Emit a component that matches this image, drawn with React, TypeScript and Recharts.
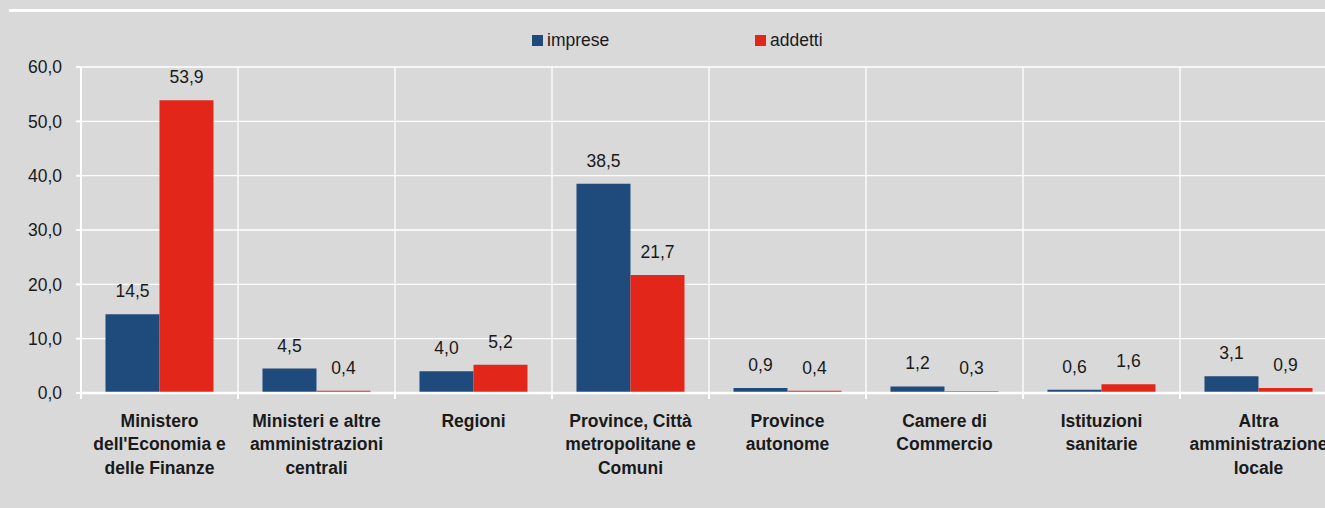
import React from 'react';
import { BarChart, Bar, XAxis, YAxis, CartesianGrid, Legend, LabelList } from 'recharts';

const categories = [
  "Ministero\ndell'Economia e\ndelle Finanze",
  'Ministeri e altre\namministrazioni\ncentrali',
  'Regioni',
  'Province, Città\nmetropolitane e\nComuni',
  'Province\nautonome',
  'Camere di\nCommercio',
  'Istituzioni\nsanitarie',
  'Altra\namministrazione\nlocale',
];
const imprese = [14.5, 4.5, 4.0, 38.5, 0.9, 1.2, 0.6, 3.1];
const addetti = [53.9, 0.4, 5.2, 21.7, 0.4, 0.3, 1.6, 0.9];
const yTicks = [0, 10, 20, 30, 40, 50, 60];

const data = categories.map((c, i) => ({ name: c, imprese: imprese[i], addetti: addetti[i] }));

const BLUE = '#1F4A7C';
const RED = '#E3261A';
const BG = '#D9D9D9';
const FONT = '"Liberation Sans", Arial, sans-serif';
const TEXT = '#1a1a1a';
const FS = 17.5;

const CHART_W = 1345;
const CHART_H = 508;
const PLOT_LEFT = 81;
const PLOT_RIGHT = CHART_W - 8;
const BAND = (PLOT_RIGHT - PLOT_LEFT) / categories.length;
const LEGEND_H = 20;

const fmt = (v: number) => v.toFixed(1).replace('.', ',');

const XTick = (props: any) => {
  const { x, y, payload, index } = props;
  const lines = String(payload.value).split('\n');
  const last = index === categories.length - 1;
  return (
    <g>
      <line x1={x - BAND / 2} x2={x - BAND / 2} y1={y} y2={y + 6} stroke="#fff" strokeWidth={2} />
      {last && <line x1={x + BAND / 2} x2={x + BAND / 2} y1={y} y2={y + 6} stroke="#fff" strokeWidth={2} />}
      <text x={x} y={y + 33.5} textAnchor="middle" fontFamily={FONT} fontSize={FS} fontWeight="bold" fill={TEXT}>
        {lines.map((l, i) => (
          <tspan key={i} x={x} dy={i === 0 ? 0 : 23.5}>{l}</tspan>
        ))}
      </text>
    </g>
  );
};

const LegendContent = () => (
  <div style={{ position: 'relative', height: LEGEND_H, fontFamily: FONT, fontSize: FS, color: TEXT, lineHeight: '20px' }}>
    <div style={{ position: 'absolute', left: 532, top: 0, display: 'flex', alignItems: 'center' }}>
      <span style={{ width: 11, height: 11, background: BLUE, display: 'inline-block', marginRight: 4 }} />
      <span>imprese</span>
    </div>
    <div style={{ position: 'absolute', left: 755, top: 0, display: 'flex', alignItems: 'center' }}>
      <span style={{ width: 11, height: 11, background: RED, display: 'inline-block', marginRight: 4 }} />
      <span>addetti</span>
    </div>
  </div>
);

export default function App() {
  return (
    <div style={{ position: 'fixed', left: 0, top: 0, width: 1325, height: 508, overflow: 'hidden', background: BG }}>
      <div style={{ position: 'absolute', left: 9, top: 9, width: 1320, height: 3, background: '#fff' }} />
      <BarChart
        width={CHART_W}
        height={CHART_H}
        data={data}
        margin={{ top: 67 - LEGEND_H, right: 8, left: 0, bottom: 15 }}
        barCategoryGap="15.6%"
        barGap={0}
      >
        <CartesianGrid
          stroke="#fff"
          strokeWidth={1.3}
          verticalCoordinatesGenerator={({ offset }: any) =>
            Array.from({ length: categories.length + 1 }, (_, i) => offset.left + (i * offset.width) / categories.length)
          }
        />
        <XAxis
          dataKey="name"
          interval={0}
          height={100}
          tickSize={0}
          tickMargin={0}
          axisLine={{ stroke: '#fff', strokeWidth: 2.5 }}
          tick={<XTick />}
        />
        <YAxis
          width={81}
          domain={[0, 60]}
          ticks={yTicks}
          tickFormatter={fmt}
          tickSize={5}
          tickMargin={14}
          axisLine={{ stroke: '#fff', strokeWidth: 2 }}
          tickLine={{ stroke: '#fff', strokeWidth: 2 }}
          tick={{ fontFamily: FONT, fontSize: FS, fill: TEXT }}
        />
        <Legend verticalAlign="top" wrapperStyle={{ position: 'absolute', top: 30, left: 0, width: 1325 }} content={<LegendContent />} />
        <Bar dataKey="imprese" fill={BLUE} isAnimationActive={false}>
          <LabelList dataKey="imprese" position="top" offset={17} formatter={fmt} style={{ fontFamily: FONT, fontSize: FS, fill: TEXT }} />
        </Bar>
        <Bar dataKey="addetti" fill={RED} isAnimationActive={false}>
          <LabelList dataKey="addetti" position="top" offset={17} formatter={fmt} style={{ fontFamily: FONT, fontSize: FS, fill: TEXT }} />
        </Bar>
      </BarChart>
    </div>
  );
}
